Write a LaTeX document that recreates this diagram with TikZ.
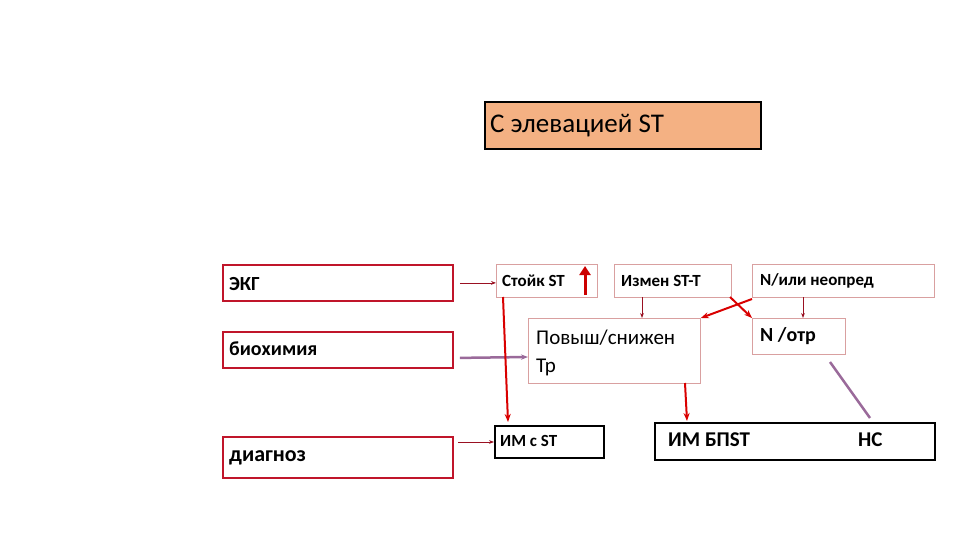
\documentclass[tikz,border=0pt]{standalone}
\usepackage{fontspec}
\setmainfont{Carlito}
\usetikzlibrary{arrows.meta,calc}
\definecolor{dred}{HTML}{C0152A}
\definecolor{lbor}{HTML}{D9A0A0}
\definecolor{salmon}{HTML}{F4B183}
\definecolor{purp}{HTML}{9A6A9A}
\begin{document}
\begin{tikzpicture}[x=1pt,y=-1pt,
 redbox/.style={draw=dred,line width=1.8pt},
 thinbox/.style={draw=lbor,line width=0.8pt},
 blkbox/.style={draw=black,line width=1.8pt},
 lbl/.style={anchor=west,inner sep=0pt},
 thinarr/.style={draw=dred!80!black,line width=0.8pt,-{Stealth[length=5pt]}},
 thickarr/.style={draw=red!85!black,line width=2pt,-{Stealth[length=8pt]}},
 purparr/.style={draw=purp,line width=2.5pt,-{Stealth[length=7pt]}}]
\useasboundingbox (0,0) rectangle (960,540);
\node[draw=black,line width=1.8pt,fill=salmon,minimum width=276pt,minimum height=47pt,anchor=north west] (title) at (484,101) {};
\node[lbl,font=\fontsize{27}{30}\selectfont] at (490,126) {С элевацией ST};
\node[redbox,minimum width=230pt,minimum height=36pt,anchor=north west] (ekg) at (222,264) {};
\node[lbl,font=\fontsize{20}{22}\selectfont\bfseries] at (229,284) {ЭКГ};
\node[redbox,minimum width=230pt,minimum height=36pt,anchor=north west] (bio) at (222,331) {};
\node[lbl,font=\fontsize{20}{22}\selectfont\bfseries] at (229,349) {биохимия};
\node[redbox,minimum width=230pt,minimum height=41pt,anchor=north west] (dia) at (222,436) {};
\node[lbl,font=\fontsize{22}{24}\selectfont\bfseries] at (229,458) {диагноз};
\node[thinbox,minimum width=101pt,minimum height=33pt,anchor=north west] (st) at (496,264) {};
\node[lbl,font=\fontsize{17}{19}\selectfont\bfseries] at (502,281) {Стойк ST};
\draw[red!80!black,line width=3pt,-{Triangle[length=9pt,width=11pt]}] (585,295) -- (585,266);
\node[thinbox,minimum width=117pt,minimum height=33pt,anchor=north west] (izm) at (614,264) {};
\node[lbl,font=\fontsize{17}{19}\selectfont\bfseries] at (621,281) {Измен ST-T};
\node[thinbox,minimum width=182pt,minimum height=33pt,anchor=north west] (nili) at (752,264) {};
\node[lbl,font=\fontsize{17}{19}\selectfont\bfseries] at (760,281) {N/или неопред};
\node[thinbox,minimum width=172pt,minimum height=65pt,anchor=north west] (pov) at (528,318) {};
\node[lbl,font=\fontsize{21}{23}\selectfont] at (536,338) {Повыш/снижен};
\node[lbl,font=\fontsize{21}{23}\selectfont] at (536,367) {Тр};
\node[thinbox,minimum width=93pt,minimum height=36pt,anchor=north west] (notr) at (752,318) {};
\node[lbl,font=\fontsize{20}{22}\selectfont\bfseries] at (760,336) {N /отр};
\node[blkbox,minimum width=109pt,minimum height=32pt,anchor=north west] (imst) at (494,425) {};
\node[lbl,font=\fontsize{17}{19}\selectfont\bfseries] at (500,441) {ИМ с ST};
\node[blkbox,minimum width=280pt,minimum height=37pt,anchor=north west] (imb) at (654,422) {};
\node[lbl,font=\fontsize{21}{23}\selectfont\bfseries] at (668,440) {ИМ БПST};
\node[lbl,font=\fontsize{21}{23}\selectfont\bfseries] at (858,440) {НС};
\coordinate (ncend) at (870,418);
% connectors
\draw[thinarr] ($(ekg.east)+(6,0)$) -- (st.west |- ekg.east);
\draw[purparr] ($(bio.east)+(6,8)$) -- (pov.west |- 0,357);
\draw[thinarr] (458,442) -- (imst.west |- 0,442);
\draw[thickarr] (503,297) -- (508,422);
\draw[thinarr] (642,297) -- (pov.north -| 642,0);
\draw[thickarr] (752,299) -- (pov.north east);
\draw[thickarr] (730,297) -- (notr.north west);
\draw[thinarr] (803,297) -- (notr.north -| 803,0);
\draw[thickarr] (685,383) -- (687,421);
\draw[draw=purp,line width=2.5pt] (830,362) -- (ncend);
\end{tikzpicture}
\end{document}
